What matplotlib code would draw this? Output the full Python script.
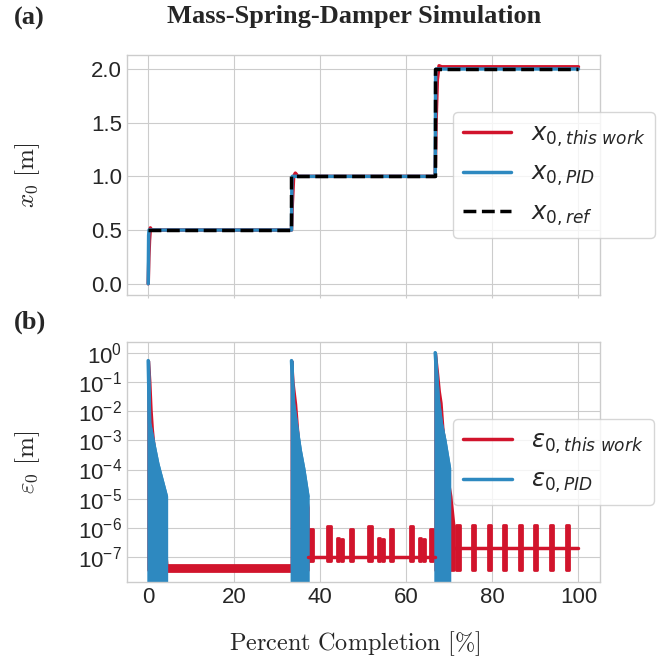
import numpy as np
import matplotlib.pyplot as plt
from matplotlib.font_manager import FontProperties

plt.style.use('seaborn-v0_8-whitegrid')
plt.rcParams['font.family'] = ['Liberation Sans', 'DejaVu Sans']
plt.rcParams['mathtext.fontset'] = 'dejavusans'

red = '#d1142c'
blue = '#2e89c0'

#%% (a) position x0 [m] vs percent completion
ref_x = [0, 33.3, 33.3, 66.7, 66.7, 100]
ref_y = [0.5, 0.5, 1.0, 1.0, 2.0, 2.0]

tw_x = [0, 0.15, 0.3, 0.5, 0.8, 33.3, 33.5, 33.8, 34.2, 34.8, 66.7, 66.9, 67.2, 67.6, 68.2, 100]
tw_y = [0, 0.25, 0.4, 0.52, 0.5, 0.5, 0.75, 1.0, 1.03, 1.0, 1.0, 1.5, 1.9, 2.03, 2.02, 2.02]

pid_x = [0, 0.1, 0.2, 33.3, 33.4, 33.5, 66.7, 66.8, 66.9, 100]
pid_y = [0, 0.45, 0.5, 0.5, 0.95, 1.0, 1.0, 1.95, 2.0, 2.0]

#%% (b) error eps0 [m], log scale
# PID: oscillating error, upper envelope after each set-point change
pid_env_x = [[0, 0.3, 2.2, 4.2],
             [33.3, 33.75, 34.5, 35.3, 36.1, 37.1],
             [66.7, 67.4, 68.1, 68.9, 70.0]]
pid_env_y = [[0.56, 4e-3, 1.6e-4, 1.2e-5],
             [0.56, 0.019, 3e-3, 4.7e-4, 1.1e-4, 1.2e-5],
             [1.05, 0.025, 3.9e-3, 1.05e-3, 1.1e-4]]
pid_floor = 1e-9  # error crosses zero -> below the plotted range

# this work: decay envelope after each set-point change
tw_env_x = [[0, 0.3, 0.6, 0.9, 1.5, 3.0, 4.3],
            [33.3, 33.6, 34.2, 34.6, 35.0, 36.0, 37.1],
            [66.7, 67.2, 67.6, 68.0, 68.4, 68.8, 69.5, 70.3, 71.0]]
tw_env_y = [[0.56, 0.12, 0.012, 2.5e-3, 3e-4, 1e-5, 5e-8],
            [0.56, 0.1, 0.018, 3e-3, 6e-4, 6e-5, 5e-6],
            [1.0, 0.2, 0.05, 0.02, 3e-3, 8e-4, 6e-5, 1.2e-5, 1.1e-6]]
tw_env_lo = 3.5e-8

# steady segments: start, end, low, high
seg_start = [4.3, 37.2, 71.0]
seg_end = [33.2, 66.7, 100]
seg_lo = [3.3e-8, 1e-7, 2e-7]
seg_hi = [5.3e-8, 1e-7, 2e-7]

# oscillation bursts in the steady segments
burst_c = [37.8, 42.0, 44.1, 45.0, 47.2, 51.5, 53.7, 54.6, 56.5, 61.2, 63.1, 64.0, 65.9,
           72.0, 75.6, 79.3, 82.8, 86.5, 90.0, 93.7, 97.4]
burst_w = [1.0, 0.8, 0.45, 0.45, 0.8, 0.8, 0.45, 0.45, 0.8, 0.8, 0.45, 0.45, 0.8,
           0.7, 0.7, 0.7, 0.7, 0.7, 0.7, 0.7, 0.7]
burst_top = [9e-7, 1.1e-6, 4.5e-7, 4e-7, 9e-7, 1.1e-6, 4.5e-7, 4e-7, 9e-7, 1.1e-6, 4.5e-7, 4e-7, 9e-7,
             1.26e-6, 1.26e-6, 1.26e-6, 1.26e-6, 1.26e-6, 1.26e-6, 1.26e-6, 1.26e-6]
burst_bot = [7e-8] * 13 + [3.6e-8] * 8

log_ticks = [1e0, 1e-1, 1e-2, 1e-3, 1e-4, 1e-5, 1e-6, 1e-7]

#%% figure
fig = plt.figure(figsize=(6.7, 6.62), dpi=100)
ax1 = fig.add_axes([0.1891, 0.5544, 0.7064, 0.3630])
ax2 = fig.add_axes([0.1891, 0.1213, 0.7064, 0.3616])

lw = 2.5
leg_font = FontProperties(family='DejaVu Sans', size=17.5, math_fontfamily='dejavusans')

ax1.plot(tw_x, tw_y, color=red, lw=lw, label=r'$x_{0, this\ work}$')
ax1.plot(pid_x, pid_y, color=blue, lw=lw, label=r'$x_{0, PID}$')
ax1.plot(ref_x, ref_y, color='black', lw=lw, ls='--', label=r'$x_{0, ref}$')
ax1.set_xlim(-5, 105)
ax1.set_ylim(-0.105, 2.133)
ax1.set_yticks([0.0, 0.5, 1.0, 1.5, 2.0])
ax1.set_xticks([0, 20, 40, 60, 80, 100])
ax1.tick_params(labelbottom=False, labelsize=16)
ax1.tick_params(axis='x', length=2, color='0.8')
ax1.set_ylabel(r'$x_0\ [\mathrm{m}]$', fontsize=18, math_fontfamily='cm')
ax1.yaxis.set_label_coords(-0.18, 0.5)
ax1.legend(loc='center left', bbox_to_anchor=(0.689, 0.5), borderaxespad=0,
           frameon=True, fancybox=True, framealpha=0.8, edgecolor='0.8', prop=leg_font)

# this work (red) below, PID (blue) on top
for i in range(3):
    ax2.fill_between(tw_env_x[i], tw_env_lo, tw_env_y[i], color=red, lw=2, edgecolor=red)
for i in range(3):
    if seg_lo[i] == seg_hi[i]:
        ax2.plot([seg_start[i], seg_end[i]], [seg_lo[i], seg_hi[i]], color=red, lw=lw,
                 label=r'$\varepsilon_{0, this\ work}$' if i == 1 else None)
    else:
        ax2.fill_between([seg_start[i], seg_end[i]], seg_lo[i], seg_hi[i], color=red, lw=2, edgecolor=red)
for c, w, t, b in zip(burst_c, burst_w, burst_top, burst_bot):
    ax2.fill_between([c - w / 2, c + w / 2], b, t, color=red, lw=2, edgecolor=red)

for i in range(3):
    ax2.fill_between(pid_env_x[i], pid_floor, pid_env_y[i], color=blue, lw=2, edgecolor=blue)
    ax2.plot(pid_env_x[i], pid_env_y[i], color=blue, lw=lw,
             label=r'$\varepsilon_{0, PID}$' if i == 0 else None)

ax2.set_yscale('log')
ax2.set_xlim(-5, 105)
ax2.set_ylim(10**-7.86, 10**0.378)
ax2.set_yticks(log_ticks)
ax2.minorticks_off()
ax2.set_xticks([0, 20, 40, 60, 80, 100])
ax2.tick_params(labelsize=16)
ax2.set_ylabel(r'$\varepsilon_0\ [\mathrm{m}]$', fontsize=18, math_fontfamily='cm')
ax2.yaxis.set_label_coords(-0.18, 0.5)
ax2.legend(loc='center left', bbox_to_anchor=(0.69, 0.5), borderaxespad=0,
           frameon=True, fancybox=True, framealpha=0.8, edgecolor='0.8', prop=leg_font)

for ax in (ax1, ax2):
    for s in ax.spines.values():
        s.set_color('0.8')

fig.text(0.528, 0.992, 'Mass-Spring-Damper Simulation', ha='center', va='top',
         fontsize=19, fontweight='bold', family='Liberation Serif')
fig.text(0.02, 0.99, '(a)', ha='left', va='top', fontsize=19, fontweight='bold', family='Liberation Serif')
fig.text(0.02, 0.531, '(b)', ha='left', va='top', fontsize=19, fontweight='bold', family='Liberation Serif')
fig.text(0.529, 0.018, r'$\mathrm{Percent\ Completion\ [\%]}$', ha='center', va='baseline',
         fontsize=17.5, math_fontfamily='cm')

plt.savefig('out.png')
